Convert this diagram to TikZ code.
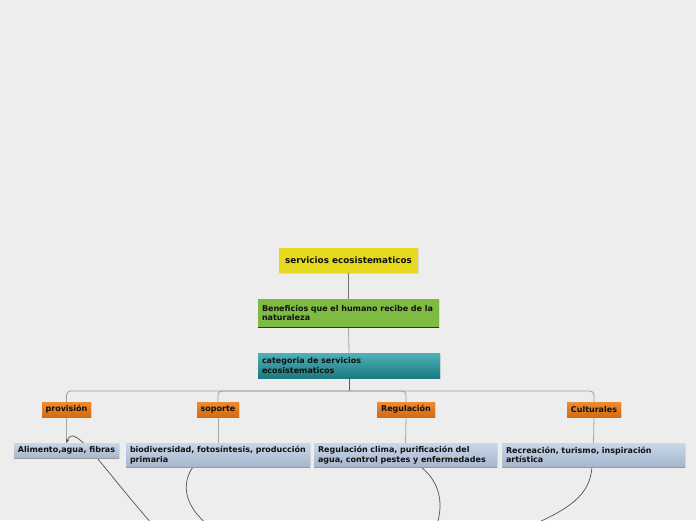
\documentclass[tikz,border=0pt]{standalone}
\usepackage{fontspec}
\setmainfont{DejaVu Sans}
\usetikzlibrary{arrows.meta,shadows,backgrounds}
\definecolor{bg}{HTML}{EDEDED}
\definecolor{yel}{HTML}{E6D81C}
\definecolor{grn}{HTML}{7DBB42}
\definecolor{tealtop}{HTML}{4FB2BA}
\definecolor{tealbot}{HTML}{1B7A80}
\definecolor{ortop}{HTML}{EE8C30}
\definecolor{orbot}{HTML}{D26A12}
\definecolor{bltop}{HTML}{C9D7E9}
\definecolor{blbot}{HTML}{A5B6CD}
\definecolor{txt}{HTML}{111111}
\tikzset{
  base/.style={inner ysep=0pt, text=txt, font=\bfseries\fontsize{8}{9.4}\selectfont,
    drop shadow={opacity=0.18, shadow xshift=0.8pt, shadow yshift=-0.8pt}},
  leftbox/.style={base, align=left, inner xsep=4pt},
  rootbox/.style={base, fill=yel, align=center, inner xsep=0pt,
    font=\bfseries\fontsize{8.8}{10}\selectfont},
  greenbox/.style={leftbox, fill=grn},
  tealbox/.style={leftbox, top color=tealtop, bottom color=tealbot},
  orbox/.style={base, top color=ortop, bottom color=orbot, align=center, inner xsep=0pt},
  leafbox/.style={leftbox, top color=bltop, bottom color=blbot},
  darkline/.style={draw=black!55, line width=1.8pt},
  lightline/.style={draw=black!35, line width=0.8pt},
  treeline/.style={draw=black!38, line width=0.8pt, rounded corners=4pt},
  relline/.style={draw=black!68, line width=0.7pt},
}
\begin{document}
\begin{tikzpicture}[x=1pt,y=1pt]
\useasboundingbox (0,0) rectangle (696,520);
\clip (0,0) rectangle (696,520);

% main chain
\node[rootbox, minimum width=139pt, minimum height=25pt] (root) at (348.5,259.5) {servicios ecosistematicos};
\node[greenbox, text width=173pt, minimum height=28pt] (ben) at (348.5,207) {Beneficios que el humano recibe de la\\naturaleza};
\node[tealbox, text width=174pt, minimum height=25pt] (cat) at (349,154.5) {categoria de servicios\\ecosistematicos};
\draw[black!80, line width=0.9pt] (ben.south west) -- (ben.south east);

% categories
\node[orbox, minimum width=49pt, minimum height=15pt] (prov) at (66.5,110.5) {provisión};
\node[orbox, minimum width=42pt, minimum height=15pt] (sop) at (218,110.5) {soporte};
\node[orbox, minimum width=58pt, minimum height=15pt] (reg) at (406,110.5) {Regulación};
\node[orbox, minimum width=54pt, minimum height=15pt] (cul) at (594,110.5) {Culturales};

% leaves
\node[leafbox, align=center, inner xsep=0pt, minimum width=105pt, minimum height=15pt] (alim) at (66.5,69.5) {Alimento,agua, fibras};
\node[leafbox, text width=176pt, minimum height=24pt] (bio) at (218,65) {biodiversidad, fotosíntesis, producción\\primaria};
\node[leafbox, text width=175pt, minimum height=24pt] (regc) at (405.5,65) {Regulación clima, purificación del\\agua, control pestes y enfermedades};
\node[leafbox, text width=175pt, minimum height=24pt] (rec) at (593.5,65) {Recreación, turismo, inspiración\\artística};
\foreach \n in {alim,bio,regc,rec}{
  \draw[black!40, line width=0.8pt] (\n.south west) -- (\n.south east);
}

\begin{pgfonlayer}{background}
\fill[bg] (0,0) rectangle (696,520);
% tree connectors
\coordinate (hub) at (349,129);
\draw[darkline] (root.south) -- (ben.north);
\draw[lightline] (ben.south) -- (cat.north);
\draw[black!65, line width=1pt] (cat.south) -- (hub);
\draw[treeline] (hub) -| (prov.north);
\draw[treeline] (hub) -| (sop.north);
\draw[treeline] (hub) -| (reg.north);
\draw[treeline] (hub) -| (cul.north);
\draw[lightline] (prov.south) -- (alim.north);
\draw[lightline] (sop.south) -- (bio.north);
\draw[lightline] (reg.south) -- (regc.north);
\draw[lightline] (cul.south) -- (rec.north);

% relationship curves leaving the view
\coordinate (e1) at (152,-4);
\coordinate (e2) at (215,-10);
\coordinate (e3) at (435,-10);
\coordinate (e4) at (520,-10);
\draw[relline, -{Stealth[length=4pt,width=3.5pt]}] (e1) .. controls (98,58) and (74,98) .. (alim.north);
\draw[relline] (193,53) .. controls (180,35) and (185,10) .. (e2);
\draw[relline] (421,53) .. controls (440,38) and (445,15) .. (e3);
\draw[relline] (592,53) .. controls (590,25) and (570,10) .. (e4);
\end{pgfonlayer}
\end{tikzpicture}
\end{document}
